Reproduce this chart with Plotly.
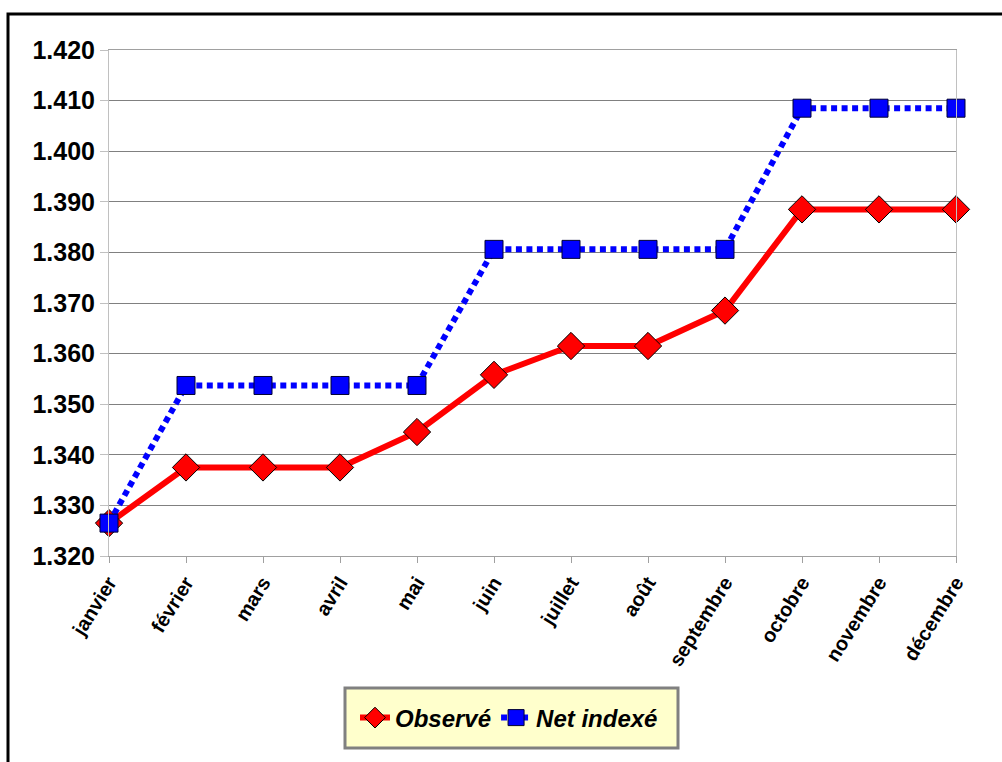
import plotly.graph_objects as go

months = ["janvier", "février", "mars", "avril", "mai", "juin", "juillet",
          "août", "septembre", "octobre", "novembre", "décembre"]
observe = [1.3265, 1.3375, 1.3375, 1.3375, 1.3445, 1.3558, 1.3615, 1.3615,
           1.3685, 1.3885, 1.3885, 1.3885]
net_indexe = [1.3265, 1.3537, 1.3537, 1.3537, 1.3537, 1.3806, 1.3806, 1.3806,
              1.3806, 1.4085, 1.4085, 1.4085]
y_ticks = [1.32 + 0.01 * i for i in range(11)]

W, H = 1002, 762
L, R, T, B = 109, 46, 50, 206
pw, ph = W - L - R, H - T - B

def px(x):
    return (x - L) / pw

def py(y):
    return (H - B - y) / ph

fig = go.Figure()
fig.add_trace(go.Scatter(
    x=months, y=observe, name="Observé", mode="lines+markers",
    line=dict(color="#ff0000", width=6), cliponaxis=False,
    marker=dict(symbol="diamond", size=21, color="#ff0000",
                line=dict(color="#000000", width=1)),
))
fig.add_trace(go.Scatter(
    x=months, y=net_indexe, name="Net indexé", mode="lines+markers",
    line=dict(color="#0000ff", width=6, dash="6px,4.5px"), cliponaxis=False,
    marker=dict(symbol="square", size=18, color="#0000ff",
                line=dict(color="#000033", width=1)),
))

fig.update_layout(
    width=W, height=H,
    margin=dict(l=L, r=R, t=T, b=B),
    paper_bgcolor="white", plot_bgcolor="white",
    font=dict(family="Liberation Sans, Arial", color="black"),
    showlegend=True,
    legend=dict(
        orientation="h", x=px(509), xanchor="center", y=py(718), yanchor="middle",
        bgcolor="rgba(0,0,0,0)", borderwidth=0,
        font=dict(size=24, family="Liberation Sans, Arial", color="black",
                  weight="bold", style="italic"),
        itemwidth=30,
    ),
    shapes=[
        dict(type="rect", xref="paper", yref="paper",
             x0=px(345), x1=px(678), y0=py(748), y1=py(688),
             fillcolor="#ffffcc", line=dict(color="#808080", width=3), layer="below"),
        dict(type="rect", xref="paper", yref="paper",
             x0=px(8), x1=px(1015), y0=py(775), y1=py(14),
             line=dict(color="black", width=3), layer="above"),
    ],
)
fig.update_xaxes(
    type="category", range=[0, 11], showgrid=False,
    showline=True, linecolor="#a0a0a0", linewidth=1, mirror=True,
    ticks="outside", ticklen=6, tickcolor="#a0a0a0",
    tickangle=-58,
    tickfont=dict(size=20, family="Liberation Sans, Arial", color="black", weight="bold"),
)
fig.update_yaxes(
    range=[1.32, 1.42], tickvals=y_ticks, tickformat=".3f",
    showgrid=True, gridcolor="#808080", gridwidth=1,
    showline=True, linecolor="#c0c0c0", linewidth=1, mirror=True,
    ticks="outside", ticklen=8, tickcolor="#c0c0c0", zeroline=False,
    tickfont=dict(size=25, family="Liberation Sans, Arial", color="black", weight="bold"),
)

fig.write_html("out.html")
